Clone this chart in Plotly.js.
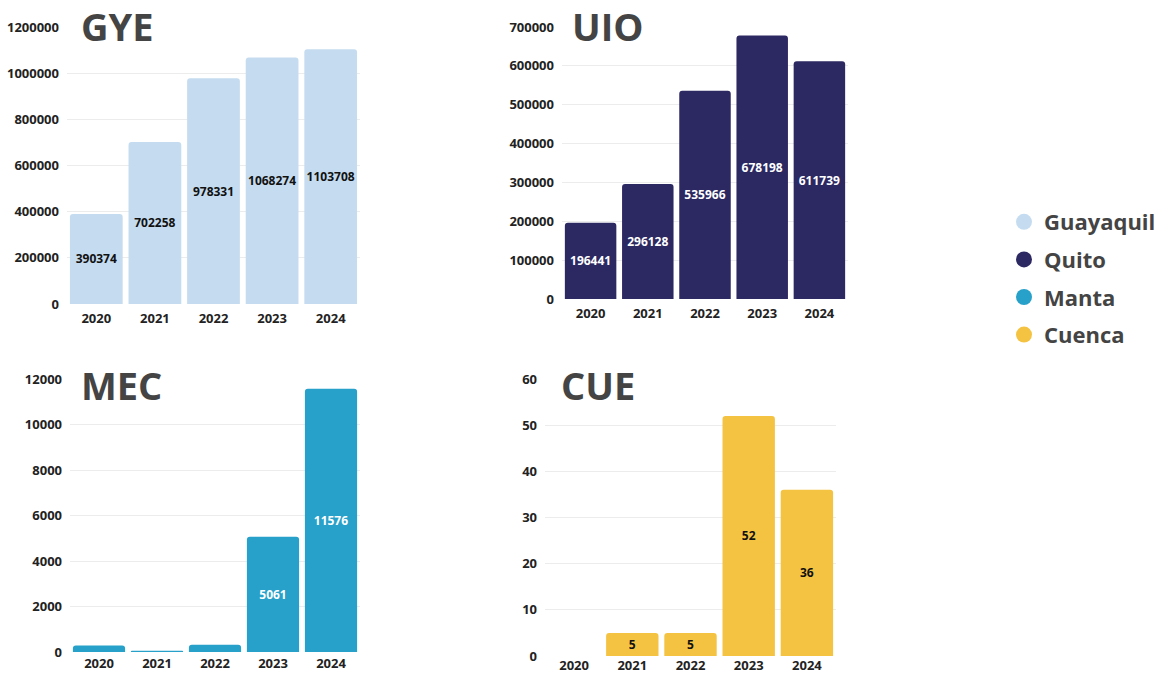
<!DOCTYPE html>
<html>
<head>
<meta charset="utf-8">
<script src="https://cdn.plot.ly/plotly-3.0.1.min.js"></script>
<style>
  html, body { margin: 0; padding: 0; background: #ffffff; }
  #chart { width: 1172px; height: 675px; }
</style>
</head>
<body>
<div id="chart"></div>
<script>
// ---- Data ----
const years = ['2020', '2021', '2022', '2023', '2024'];
const gyeValues = [390374, 702258, 978331, 1068274, 1103708];
const uioValues = [196441, 296128, 535966, 678198, 611739];
const mecValues = [290, 50, 320, 5061, 11576];
const cueValues = [0, 5, 5, 52, 36];
const panelTitles = ['GYE', 'UIO', 'MEC', 'CUE'];
const cityNames = ['Guayaquil', 'Quito', 'Manta', 'Cuenca'];
const gyeTicks = [0, 200000, 400000, 600000, 800000, 1000000, 1200000];
const uioTicks = [0, 100000, 200000, 300000, 400000, 500000, 600000, 700000];
const mecTicks = [0, 2000, 4000, 6000, 8000, 10000, 12000];
const cueTicks = [0, 10, 20, 30, 40, 50, 60];

// ---- Styles ----
const colors = ['#c5dcf0', '#2c2862', '#27a1c9', '#f5c342'];
const labelColors = ['#111111', '#ffffff', '#ffffff', '#111111'];
const FONT = 'Open Sans, sans-serif';

function labelsFor(values, maxV) {
  return values.map(v => (v > maxV * 0.06 ? String(v) : ''));
}

const panels = [
  { vals: gyeValues, ticks: gyeTicks, max: 1200000, xa: 'x', ya: 'y' },
  { vals: uioValues, ticks: uioTicks, max: 700000, xa: 'x2', ya: 'y2' },
  { vals: mecValues, ticks: mecTicks, max: 12000, xa: 'x3', ya: 'y3' },
  { vals: cueValues, ticks: cueTicks, max: 60, xa: 'x4', ya: 'y4' }
];

const traces = panels.map((p, i) => ({
  type: 'bar',
  x: years,
  y: p.vals,
  xaxis: p.xa,
  yaxis: p.ya,
  name: cityNames[i],
  showlegend: false,
  marker: { color: colors[i], line: { width: 0 } },
  text: labelsFor(p.vals, p.max),
  textposition: 'inside',
  insidetextanchor: 'middle',
  textangle: 0,
  constraintext: 'none',
  textfont: { family: FONT, size: 12, weight: 700, color: labelColors[i] },
  hoverinfo: 'x+y'
}));

// legend entries (circle markers)
cityNames.forEach((n, i) => {
  traces.push({
    type: 'scatter',
    mode: 'markers',
    x: [null], y: [null],
    xaxis: 'x', yaxis: 'y',
    name: n,
    legendgroup: 'g' + i,
    showlegend: true,
    marker: { color: colors[i], size: 18, symbol: 'circle' }
  });
});

const W = 1172, H = 675;
function xd(a, b) { return [a / W, b / W]; }
function yd(top, bottom) { return [1 - bottom / H, 1 - top / H]; }

function xAxis(dom, anchor, standoff) {
  return {
    domain: dom, anchor: anchor, type: 'category',
    showgrid: false, zeroline: false, showline: false, ticks: '',
    ticklabelstandoff: standoff,
    tickfont: { family: FONT, size: 13, weight: 700, color: '#222222' },
    fixedrange: true
  };
}
function yAxis(dom, anchor, ticks, max) {
  return {
    domain: dom, anchor: anchor, range: [0, max],
    tickmode: 'array', tickvals: ticks, ticktext: ticks.map(String),
    showgrid: true, gridcolor: '#ececec', gridwidth: 1,
    zeroline: false, showline: false, ticks: '',
    ticklabelstandoff: 7,
    tickfont: { family: FONT, size: 13, weight: 700, color: '#222222' },
    fixedrange: true
  };
}

const titlePos = [
  { x: 79, y: -2 },
  { x: 570, y: -2 },
  { x: 79, y: 357 },
  { x: 559, y: 357 }
];

const layout = {
  width: W, height: H,
  paper_bgcolor: '#ffffff', plot_bgcolor: '#ffffff',
  margin: { l: 0, r: 0, t: 0, b: 0 },
  font: { family: FONT, color: '#222222' },
  bargap: 0.1,
  barcornerradius: 3,
  xaxis: xAxis(xd(67, 360), 'y', 5),
  yaxis: yAxis(yd(27, 304), 'x', gyeTicks, 1200000),
  xaxis2: xAxis(xd(562, 848), 'y2', 5),
  yaxis2: yAxis(yd(27, 299), 'x2', uioTicks, 700000),
  xaxis3: xAxis(xd(70, 360), 'y3', 2),
  yaxis3: yAxis(yd(379, 652), 'x3', mecTicks, 12000),
  xaxis4: xAxis(xd(545, 836), 'y4', 0),
  yaxis4: yAxis(yd(379, 656), 'x4', cueTicks, 60),
  showlegend: true,
  legend: {
    x: 1004 / W, y: 1 - 201 / H, xanchor: 'left', yanchor: 'top',
    font: { family: FONT, size: 22, weight: 700, color: '#444444' },
    itemsizing: 'trace',
    tracegroupgap: 6,
    bgcolor: 'rgba(0,0,0,0)'
  },
  annotations: panelTitles.map((t, i) => ({
    text: t,
    xref: 'paper', yref: 'paper',
    x: titlePos[i].x / W, y: 1 - titlePos[i].y / H,
    xanchor: 'left', yanchor: 'top',
    showarrow: false,
    font: { family: FONT, size: 38, weight: 700, color: '#444444' }
  }))
};

Plotly.newPlot('chart', traces, layout, { displayModeBar: false, staticPlot: true });
</script>
</body>
</html>
